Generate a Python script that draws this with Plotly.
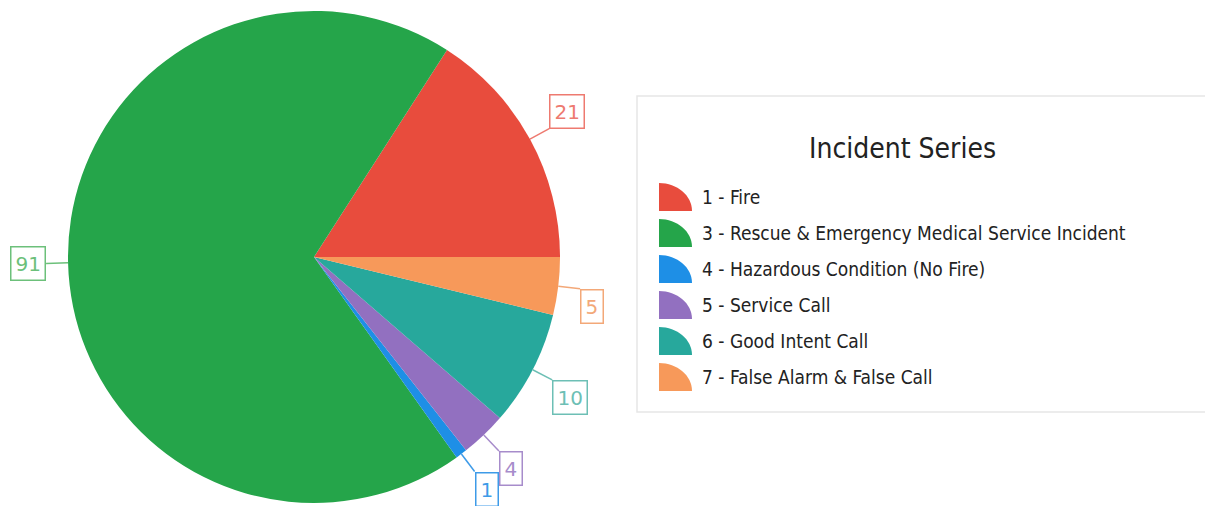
import math
import plotly.graph_objects as go

# ---- data ----
labels = ["1 - Fire",
          "3 - Rescue & Emergency Medical Service Incident",
          "4 - Hazardous Condition (No Fire)",
          "5 - Service Call",
          "6 - Good Intent Call",
          "7 - False Alarm & False Call"]
values = [21, 91, 1, 4, 10, 5]
colors = ["#E84C3D", "#25A54A", "#1E8FE6", "#9270C0", "#27A89C", "#F7995A"]
label_colors = ["#EE7A70", "#6CC07A", "#3E9BE8", "#A78CCB", "#6DBFB5", "#F3A878"]
legend_title = "Incident Series"

# ---- layout geometry (page pixels) ----
OFF = 8                      # default body margin of the html page
W, H = 1213 - OFF, 506 - OFF  # figure size
PIE_TOP, PIE_BOTTOM = 11, 503
PIE_X0, PIE_X1 = 68, 560
MT = PIE_TOP - OFF
MB = H - (PIE_BOTTOM - OFF)
FONT = "DejaVu Sans"
LEG_FONT = "DejaVu Sans Condensed"


def px(x):
    return (x - OFF) / W


def py(y):
    return (H - MB - (y - OFF)) / (H - MT - MB)


cx = (PIE_X0 + PIE_X1) / 2
R = (PIE_X1 - PIE_X0) / 2
cy = PIE_TOP + R
total = sum(values)
START = 90  # clockwise-from-top angle where the first slice begins (going ccw)
rotation = START - 360 * values[0] / total

fig = go.Figure(go.Pie(
    labels=labels, values=values, sort=False, direction="counterclockwise",
    rotation=rotation, marker=dict(colors=colors, line=dict(width=0)),
    textinfo="none", hoverinfo="label+value", showlegend=False,
    domain=dict(x=[px(PIE_X0), px(PIE_X1)], y=[0, 1]),
))

shapes = []
annotations = []

# data labels with connectors
cum = 0
for v, lc in zip(values, label_colors):
    mid = START - 360 * (cum + v / 2) / total
    cum += v
    s, c = math.sin(math.radians(mid)), math.cos(math.radians(mid))
    ex, ey = cx + R * s, cy - R * c
    lx, ly = cx + (R + 22) * s, cy - (R + 22) * c
    shapes.append(dict(type="line", xref="paper", yref="paper",
                       x0=px(ex), y0=py(ey), x1=px(lx), y1=py(ly),
                       line=dict(color=lc, width=1.5)))
    if s < 0:
        xa, ya = "right", "middle"
    else:
        xa = "left"
        ya = "bottom" if c > 0 else "top"
    annotations.append(dict(xref="paper", yref="paper", x=px(lx), y=py(ly),
                            xanchor=xa, yanchor=ya, showarrow=False,
                            text=str(v), font=dict(family=FONT, size=20, color=lc),
                            bordercolor=lc, borderwidth=1.5, borderpad=4,
                            bgcolor="white"))

# custom legend
shapes.append(dict(type="rect", xref="paper", yref="paper",
                   x0=px(637), x1=px(1208), y0=py(96), y1=py(412),
                   line=dict(color="#E6E6E6", width=1.5), layer="below"))
annotations.append(dict(xref="paper", yref="paper", x=px(902), y=py(148),
                        xanchor="center", yanchor="middle", showarrow=False,
                        text=legend_title,
                        font=dict(family=LEG_FONT, size=28, color="#222222")))
k = 0.5523
for i, (lab, col) in enumerate(zip(labels, colors)):
    yc = 197 + 36 * i
    x0, x1 = 659, 692
    yt, yb = yc - 14, yc + 14
    rx, ry = x1 - x0, yb - yt
    path = (f"M {px(x0)},{py(yb)} L {px(x0)},{py(yt)} "
            f"C {px(x0 + k * rx)},{py(yt)} {px(x1)},{py(yb - k * ry)} {px(x1)},{py(yb)} Z")
    shapes.append(dict(type="path", xref="paper", yref="paper", path=path,
                       fillcolor=col, line=dict(width=0)))
    annotations.append(dict(xref="paper", yref="paper", x=px(700), y=py(yc),
                            xanchor="left", yanchor="middle", showarrow=False,
                            text=lab,
                            font=dict(family=LEG_FONT, size=19, color="#222222")))

fig.update_layout(
    width=W, height=H,
    margin=dict(l=0, r=0, t=MT, b=MB),
    paper_bgcolor="white", plot_bgcolor="white",
    shapes=shapes, annotations=annotations,
)

fig.write_html("out.html")
